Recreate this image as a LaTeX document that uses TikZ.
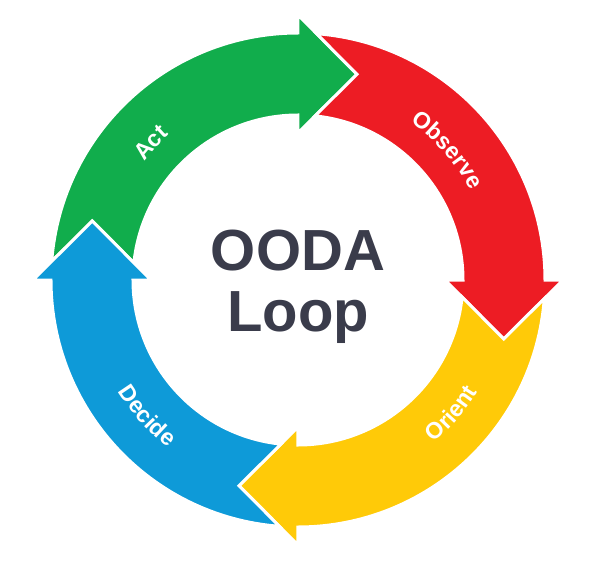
\documentclass[tikz,border=0pt]{standalone}
\usepackage{fontspec}
\setsansfont{Liberation Sans}
\usepackage{tikz}
\usetikzlibrary{decorations.text}
\definecolor{actgreen}{RGB}{17,173,76}
\definecolor{obsred}{RGB}{237,28,36}
\definecolor{oriyellow}{RGB}{255,202,8}
\definecolor{decblue}{RGB}{14,154,216}
\definecolor{loopgray}{RGB}{58,60,75}
\tikzset{
  band/.style={draw=white, line width=3pt, line join=miter},
  steplabel/.style={decorate, decoration={text along path, text align=center,
    text={|\sffamily\bfseries\fontsize{23}{23}\selectfont\color{white}|#1}}},
  title/.style={align=center, inner sep=0pt, text=loopgray, font=\sffamily\bfseries\fontsize{58}{61}\selectfont}
}
% one curved arrow, head at angle #1
\newcommand{\oodaArrow}[2]{%
  \fill[#2, band] ({#1+85.66}:247pt) arc[start angle={#1+85.66}, end angle={#1}, radius=247pt]
    -- ({#1}:265pt) -- ({#1-16}:214pt) -- ({#1}:147pt) -- ({#1}:165pt)
    arc[start angle={#1}, end angle={#1+84.05}, radius=165pt]
    -- ({#1+74}:214pt) -- cycle;}

\begin{document}
\begin{tikzpicture}
\useasboundingbox (-298pt,-280pt) rectangle (302pt,280pt);
\oodaArrow{90}{actgreen}
\oodaArrow{0}{obsred}
\oodaArrow{-90}{oriyellow}
\oodaArrow{180}{decblue}
\path[steplabel=Act] (160:194pt) arc[start angle=160, end angle=114, radius=194pt];
\path[steplabel=Observe] (70:194pt) arc[start angle=70, end angle=12, radius=194pt];
\path[steplabel=Orient] (-70:212pt) arc[start angle=-70, end angle=-12, radius=212pt];
\path[steplabel=Decide] (-167:212pt) arc[start angle=-167, end angle=-109, radius=212pt];
\node[title] (ooda) at (0pt,-7pt) {OODA\\Loop};
\end{tikzpicture}
\end{document}
